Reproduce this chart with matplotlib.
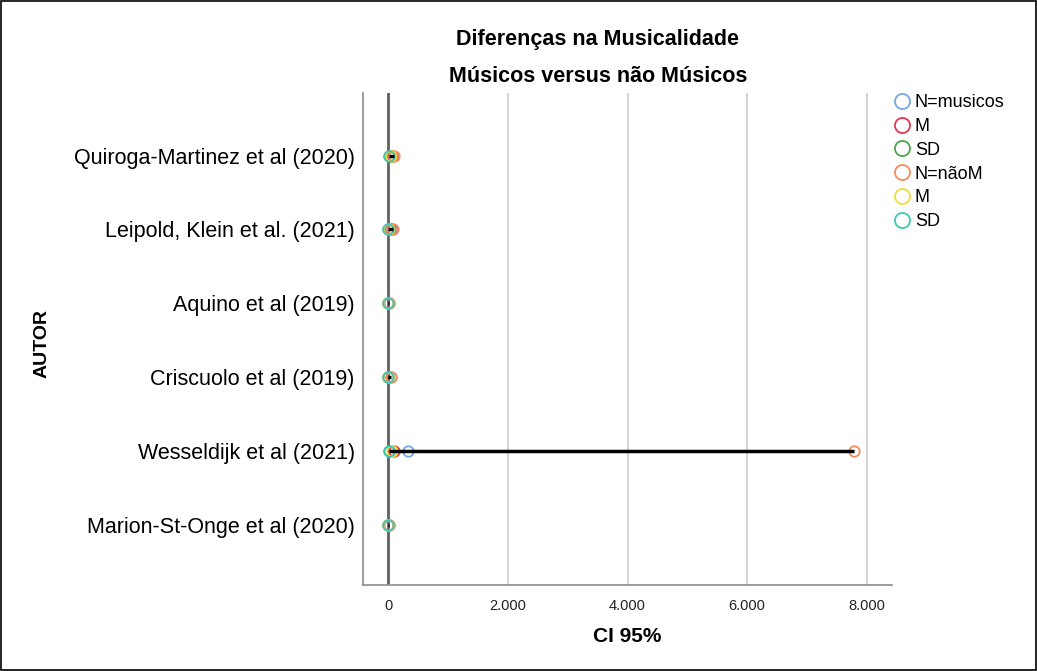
import numpy as np
import matplotlib.pyplot as plt
from matplotlib.ticker import FuncFormatter
from matplotlib.patches import Rectangle

plt.rcParams['font.family'] = ['Liberation Sans', 'DejaVu Sans']

autores = [
    "Quiroga-Martinez et al (2020)",
    "Leipold, Klein et al. (2021)",
    "Aquino et al (2019)",
    "Criscuolo et al (2019)",
    "Wesseldijk et al (2021)",
    "Marion-St-Onge et al (2020)",
]

# six variables per study: musicians (N, M, SD) and non-musicians (N, M, SD)
n_musicos = [66, 70, 20, 45, 333, 19]
m_musicos = [60.5, 30.0, 5.5, 3.5, 95.0, 2.5]
sd_musicos = [14.2, 6.0, 1.2, 0.8, 12.0, 0.9]
n_naom = [100, 84, 20, 50, 7780, 20]
m_naom = [48.3, 20.0, 4.6, 2.9, 60.0, 1.8]
sd_naom = [13.9, 5.0, 1.1, 0.7, 11.0, 0.7]

series = [
    ("N=musicos", n_musicos, "#74a7e6"),
    ("M", m_musicos, "#e2384f"),
    ("SD", sd_musicos, "#4fa24f"),
    ("N=nãoM", n_naom, "#f68a5c"),
    ("M", m_naom, "#eedc3c"),
    ("SD", sd_naom, "#3ec8b2"),
]

fig = plt.figure(figsize=(10.37, 6.71), dpi=100)
ax = fig.add_axes([363 / 1037, 1 - 585 / 671, (892 - 363) / 1037, (585 - 93) / 671])

y = np.arange(len(autores))
vals = np.array([s[1] for s in series])

# range line from smallest to largest value of each study
ax.hlines(y, vals.min(axis=0), vals.max(axis=0), color="black", lw=2.5, zorder=4)

handles = []
for label, v, c in series:
    h, = ax.plot(v, y, "o", mfc="none", mec=c, ms=7.5, mew=1.3, label=label,
                 zorder=3, linestyle="none")
    handles.append(h)

ax.axvline(0, color="#606060", lw=2, zorder=2)
for gx in [2000, 4000, 6000, 8000]:
    ax.axvline(gx, color="#cccccc", lw=1.2, zorder=1)

ax.set_xlim(-420, 8420)
ax.set_ylim(5.82, -0.85)
ax.set_yticks(y)
ax.set_yticklabels(autores, fontsize=15.5)
ax.set_xticks([0, 2000, 4000, 6000, 8000])
ax.xaxis.set_major_formatter(FuncFormatter(lambda v, p: f"{int(v):,}".replace(",", ".")))
ax.tick_params(axis="x", length=0, labelsize=10.5, pad=10, colors="#222222")
ax.tick_params(axis="y", length=0, pad=6)

for s in ["top", "right"]:
    ax.spines[s].set_visible(False)
for s in ["left", "bottom"]:
    ax.spines[s].set_color("#8c8c8c")
    ax.spines[s].set_linewidth(1.2)

ax.set_xlabel("CI 95%", fontsize=15, fontweight="bold", labelpad=10)
fig.text(42 / 1037, 1 - 344 / 671, "AUTOR", rotation=90, fontsize=14,
         fontweight="bold", ha="center", va="center")

fig.text(598 / 1037, 1 - 40 / 671, "Diferenças na Musicalidade", fontsize=15.5,
         fontweight="bold", ha="center", va="center")
fig.text(598 / 1037, 1 - 77 / 671, "Músicos versus não Músicos", fontsize=15.5,
         fontweight="bold", ha="center", va="center")

fig.legend(handles=handles, loc="upper left", bbox_to_anchor=(894 / 1037, 1 - 94 / 671),
           frameon=False, fontsize=13, handletextpad=0.25, labelspacing=0.38,
           handlelength=0.9, borderaxespad=0, borderpad=0, markerscale=1.45)

fig.patches.append(Rectangle((0.001, 0.001), 0.998, 0.997, transform=fig.transFigure,
                             fill=False, edgecolor="black", lw=1.2))

fig.savefig("out.png", dpi=100)
